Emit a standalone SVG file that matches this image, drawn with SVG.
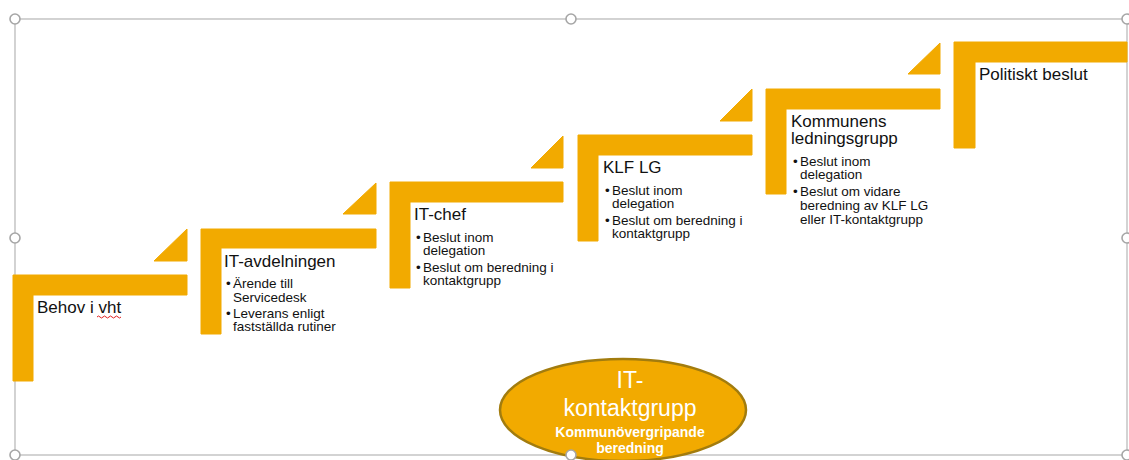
<svg xmlns="http://www.w3.org/2000/svg" width="1129" height="460" viewBox="0 0 1129 460">
  <style>
    .step { fill: #F2AA00; stroke: #F2AA00; stroke-width: 1; stroke-linejoin: round; }
    .head { font-family: "Liberation Sans", Arial, sans-serif; font-size: 17px; fill: #111; }
    .bul { font-family: "Liberation Sans", Arial, sans-serif; font-size: 13.5px; fill: #111; }
    .frame { fill: none; stroke: #C8C8C8; stroke-width: 1.6; }
    .handle { fill: #fff; stroke: #A6A6A6; stroke-width: 1.6; }
    .oval-t { font-family: "Liberation Sans", Arial, sans-serif; fill: #fff; text-anchor: middle; }
  </style>

  <rect width="1129" height="460" fill="#fff"/>

  <!-- selection frame -->
  <rect class="frame" x="15" y="19" width="1112" height="436"/>

  <!-- step 1 -->
  <g id="step-behov">
    <path class="step" d="M13 275 H187 V295 H33 V381 H13 Z"/>
    <path class="step" d="M154 261 L187 229 V261 Z"/>
    <text class="head" x="37" y="313">Behov i vht</text>
    <path d="M97 317 q1.5 -2 3 0 t3 0 t3 0 t3 0 t3 0 t3 0 t3 0 t3 0" fill="none" stroke="#E02020" stroke-width="1"/>
  </g>

  <!-- step 2 -->
  <g id="step-it-avdelningen">
    <path class="step" d="M201 229 H376 V248 H221 V334 H201 Z"/>
    <path class="step" d="M343 214 L376 183 V214 Z"/>
    <text class="head" x="224" y="267">IT-avdelningen</text>
    <text class="bul" x="226" y="288">•</text>
    <text class="bul" x="233" y="288">Ärende till</text>
    <text class="bul" x="233" y="302">Servicedesk</text>
    <text class="bul" x="226" y="318">•</text>
    <text class="bul" x="233" y="318">Leverans enligt</text>
    <text class="bul" x="233" y="331">fastställda rutiner</text>
  </g>

  <!-- step 3 -->
  <g id="step-it-chef">
    <path class="step" d="M390 182 H563 V202 H410 V288 H390 Z"/>
    <path class="step" d="M531 168 L563 136 V168 Z"/>
    <text class="head" x="414" y="220">IT-chef</text>
    <text class="bul" x="416" y="242">•</text>
    <text class="bul" x="423" y="242">Beslut inom</text>
    <text class="bul" x="423" y="255">delegation</text>
    <text class="bul" x="416" y="272">•</text>
    <text class="bul" x="423" y="272">Beslut om beredning i</text>
    <text class="bul" x="423" y="285">kontaktgrupp</text>
  </g>

  <!-- step 4 -->
  <g id="step-klf-lg">
    <path class="step" d="M578 135 H752 V155 H598 V241 H578 Z"/>
    <path class="step" d="M720 121 L752 89 V121 Z"/>
    <text class="head" x="603" y="173">KLF LG</text>
    <text class="bul" x="605" y="195">•</text>
    <text class="bul" x="612" y="195">Beslut inom</text>
    <text class="bul" x="612" y="208">delegation</text>
    <text class="bul" x="605" y="225">•</text>
    <text class="bul" x="612" y="225">Beslut om beredning i</text>
    <text class="bul" x="612" y="238">kontaktgrupp</text>
  </g>

  <!-- step 5 -->
  <g id="step-kommunens-lg">
    <path class="step" d="M766 89 H940 V109 H786 V194 H766 Z"/>
    <path class="step" d="M908 74 L940 43 V74 Z"/>
    <text class="head" x="791" y="127">Kommunens</text>
    <text class="head" x="791" y="144">ledningsgrupp</text>
    <text class="bul" x="793" y="166">•</text>
    <text class="bul" x="800" y="166">Beslut inom</text>
    <text class="bul" x="800" y="179">delegation</text>
    <text class="bul" x="793" y="196">•</text>
    <text class="bul" x="800" y="196">Beslut om vidare</text>
    <text class="bul" x="800" y="210">beredning av KLF LG</text>
    <text class="bul" x="800" y="224">eller IT-kontaktgrupp</text>
  </g>

  <!-- step 6 -->
  <g id="step-politiskt">
    <path class="step" d="M954 42 H1127 V62 H975 V148 H954 Z"/>
    <text class="head" x="979" y="80">Politiskt beslut</text>
  </g>

  <!-- contact group oval -->
  <g id="it-kontaktgrupp">
    <ellipse cx="623" cy="410" rx="123" ry="51" fill="#F2AA00" stroke="#A27C0E" stroke-width="2.5"/>
    <text class="oval-t" x="630" y="388" font-size="23">IT-</text>
    <text class="oval-t" x="630" y="416" font-size="23">kontaktgrupp</text>
    <text class="oval-t" x="630" y="437" font-size="14" font-weight="bold">Kommunövergripande</text>
    <text class="oval-t" x="630" y="453" font-size="14" font-weight="bold">beredning</text>
  </g>

  <!-- frame handles -->
  <g id="handles">
    <circle class="handle" cx="15" cy="19" r="5"/>
    <circle class="handle" cx="571" cy="19" r="5"/>
    <circle class="handle" cx="1127" cy="19" r="5"/>
    <circle class="handle" cx="15" cy="238" r="5"/>
    <circle class="handle" cx="1127" cy="238" r="5"/>
    <circle class="handle" cx="15" cy="455" r="5"/>
    <circle class="handle" cx="571" cy="455" r="5"/>
    <circle class="handle" cx="1127" cy="455" r="5"/>
  </g>
</svg>
